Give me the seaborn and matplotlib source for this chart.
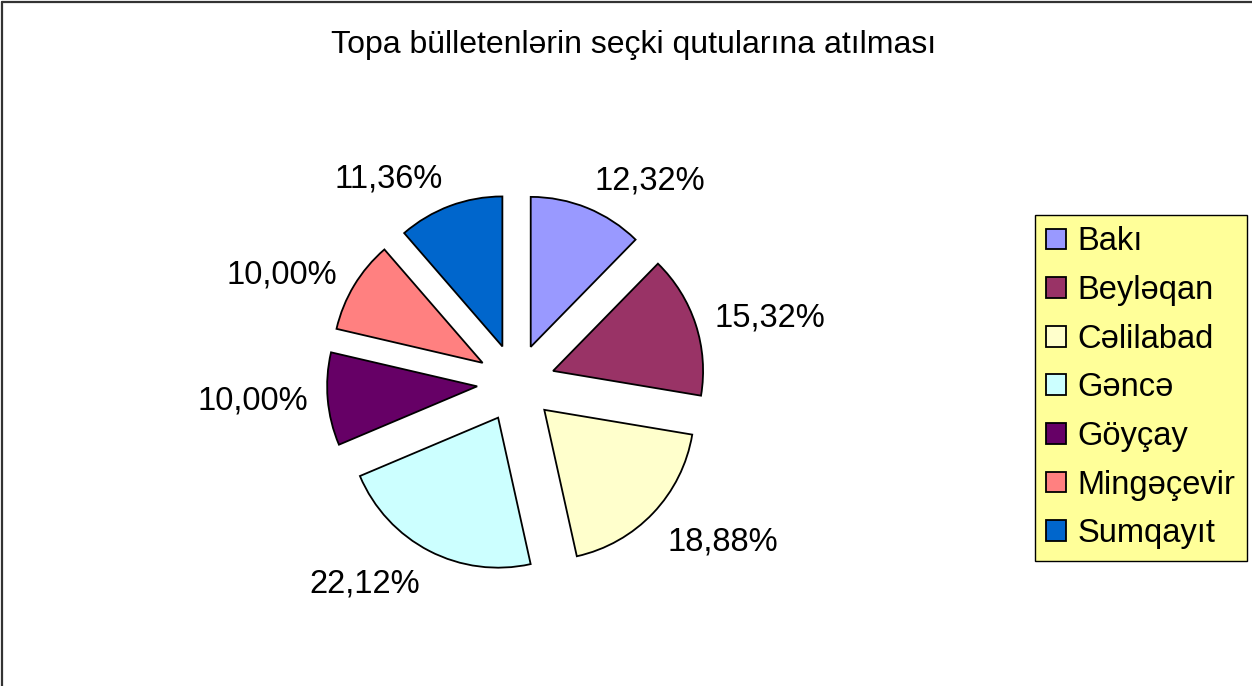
import matplotlib
matplotlib.use("Agg")
import matplotlib.pyplot as plt
import seaborn as sns
from matplotlib.lines import Line2D
import math

sns.set_theme(style="white")
plt.rcParams["font.family"] = ["Liberation Sans", "DejaVu Sans"]
plt.rcParams["text.color"] = "black"

categories = ["Bakı", "Beyləqan", "Cəlilabad", "Gəncə", "Göyçay", "Mingəçevir", "Sumqayıt"]
values = [12.32, 15.32, 18.88, 22.12, 10.00, 10.00, 11.36]
colors = ["#9999FF", "#993366", "#FFFFCC", "#CCFFFF", "#660066", "#FF8080", "#0066CC"]
title = "Topa bülletenlərin seçki qutularına atılması"
value_labels = [f"{v:.2f}%".replace(".", ",") for v in values]

W, H = 1252, 686
fig = plt.figure(figsize=(W / 100, H / 100), dpi=100)
ax = fig.add_axes([0, 0, 1, 1])

cx, cy, R = 516, 383, 150  # pixel geometry of pie
wedges, texts = ax.pie(
    values,
    labels=value_labels,
    colors=colors,
    startangle=90,
    counterclock=False,
    explode=[0.26] * len(values),
    labeldistance=1.13,
    wedgeprops=dict(edgecolor="black", linewidth=1.3),
    textprops=dict(fontsize=23.5, color="black"),
)
for w, t in zip(wedges, texts):
    ang = math.radians((w.theta1 + w.theta2) / 2)
    s = math.sin(ang)
    if s > 0.6:
        t.set_va("baseline")
    elif s < -0.6:
        t.set_va("top")
    else:
        t.set_va("center")

ax.set_xlim(-cx / R, (W - cx) / R)
ax.set_ylim(-(H - cy) / R, cy / R)
ax.set_aspect("auto")
ax.axis("off")

fig.text(634 / W, 1 - 45 / H, title, ha="center", va="center", fontsize=23, color="black")

leg = fig.legend(
    wedges, categories,
    loc="upper left", bbox_to_anchor=(1035 / W, 1 - 215 / H),
    bbox_transform=fig.transFigure,
    fontsize=23.5, frameon=True, fancybox=False, framealpha=1,
    facecolor="#FFFF99", edgecolor="black",
    handlelength=0.6, handleheight=0.6, handletextpad=0.35,
    labelspacing=0.54, borderpad=0.35, borderaxespad=0,
)
leg.get_frame().set_linewidth(1.0)
for txt in leg.get_texts():
    txt.set_color("black")

fig.add_artist(Line2D([2 / W, 2 / W], [0, 1 - 2 / H], color="#333333", linewidth=1.6, transform=fig.transFigure))
fig.add_artist(Line2D([2 / W, 1], [1 - 2 / H, 1 - 2 / H], color="#333333", linewidth=1.6, transform=fig.transFigure))

fig.savefig("out.png", dpi=100)
